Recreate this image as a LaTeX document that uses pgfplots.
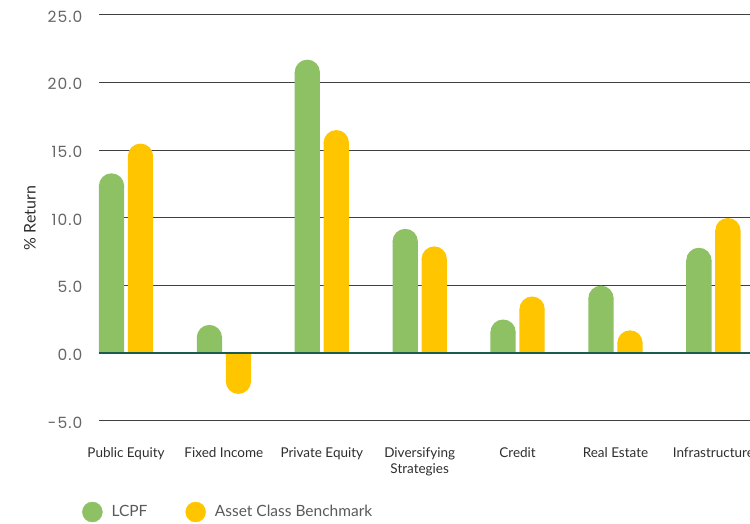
\documentclass[border=0pt]{standalone}
\usepackage{pgfplots}
\pgfplotsset{compat=1.18}
\usepackage{pgfplotstable}
\usepackage{fontspec}
\setmainfont{Lato}
\newfontfamily\tickfont[LetterSpace=7]{Poppins}
\definecolor{cgreen}{HTML}{8DC164}
\definecolor{cyellow}{HTML}{FFC600}
\definecolor{zerocol}{HTML}{1B5A4F}
\definecolor{ticktext}{HTML}{666666}
\definecolor{legtext}{HTML}{5A5A5A}
\definecolor{cattext}{HTML}{2E2E2E}
\pgfdeclareplotmark{capup}{%
  \pgfpathmoveto{\pgfqpoint{\pgfplotmarksize}{-0.6pt}}%
  \pgfpathlineto{\pgfqpoint{\pgfplotmarksize}{0pt}}%
  \pgfpatharc{0}{180}{\pgfplotmarksize}%
  \pgfpathlineto{\pgfqpoint{-\pgfplotmarksize}{-0.6pt}}%
  \pgfpathclose\pgfusepathqfill}
\pgfdeclareplotmark{capdown}{%
  \pgfpathmoveto{\pgfqpoint{-\pgfplotmarksize}{0.6pt}}%
  \pgfpathlineto{\pgfqpoint{-\pgfplotmarksize}{0pt}}%
  \pgfpatharc{180}{360}{\pgfplotmarksize}%
  \pgfpathlineto{\pgfqpoint{\pgfplotmarksize}{0.6pt}}%
  \pgfpathclose\pgfusepathqfill}
\pgfplotstableread{
x lcpf bench
0 13.3 15.5
1 2.1 -3.0
2 21.7 16.5
3 9.2 7.9
4 2.5 4.2
5 5.0 1.7
6 7.8 10.0
}\data
\begin{document}
\begin{tikzpicture}
\begin{axis}[
  at={(0,0)}, anchor=south west,
  scale only axis, width=651pt, height=406pt,
  xmin=-0.276, xmax=6.374, ymin=-5, ymax=25,
  axis line style={draw=none}, tick style={draw=none},
  ytick={-5,0,5,10,15,20,25},
  yticklabels={-5.0,0.0,5.0,10.0,15.0,20.0,25.0},
  yticklabel style={font=\tickfont\fontsize{15.5}{18}\selectfont, text=ticktext, xshift=-13pt, yshift=-1.5pt},
  xtick={0,1,2,3,4,5,6},
  xticklabels={Public Equity, Fixed Income, Private Equity, {Diversifying\\Strategies}, Credit, Real Estate, Infrastructure},
  xticklabel style={font=\fontsize{13.5}{16.5}\selectfont, text=cattext, align=center, yshift=-23pt},
  ymajorgrids, grid style={black!75, line width=1pt},
  every axis y label/.style={at={([xshift=-69pt]axis description cs:0,0.5)}, rotate=90, anchor=center, font=\fontsize{16}{19}\selectfont, text=cattext},
  ylabel={\% Return},
  legend columns=2,
  legend style={at={(axis description cs:0,0)}, anchor=west, xshift=-17pt, yshift=-91pt,
    draw=none, fill=none, inner sep=0pt, nodes={inner sep=0pt},
    font=\fontsize{15.5}{18}\selectfont, text=legtext,
    /tikz/every odd column/.append style={column sep=9pt},
    /tikz/every even column/.append style={column sep=38pt}},
]
\addplot[ybar, bar width=25.3pt, bar shift=-14.5pt, fill=cgreen, draw=none, forget plot]
  table[x=x, y expr={\thisrow{lcpf}-0.934*(\thisrow{lcpf}>0)+0.934*(\thisrow{lcpf}<0)}] {\data};
\addplot[ybar, bar width=25.3pt, bar shift=14.5pt, fill=cyellow, draw=none, forget plot]
  table[x=x, y expr={\thisrow{bench}-0.934*(\thisrow{bench}>0)+0.934*(\thisrow{bench}<0)}] {\data};
\addplot[only marks, mark=capup, mark size=12.65pt, color=cgreen, restrict y to domain=0:40, forget plot]
  table[x expr={\thisrow{x}-0.1481}, y expr={\thisrow{lcpf}-0.934}] {\data};
\addplot[only marks, mark=capdown, mark size=12.65pt, color=cgreen, restrict y to domain=-40:0, forget plot]
  table[x expr={\thisrow{x}-0.1481}, y expr={\thisrow{lcpf}+0.934}] {\data};
\addplot[only marks, mark=capup, mark size=12.65pt, color=cyellow, restrict y to domain=0:40, forget plot]
  table[x expr={\thisrow{x}+0.1481}, y expr={\thisrow{bench}-0.934}] {\data};
\addplot[only marks, mark=capdown, mark size=12.65pt, color=cyellow, restrict y to domain=-40:0, forget plot]
  table[x expr={\thisrow{x}+0.1481}, y expr={\thisrow{bench}+0.934}] {\data};
\addplot[line width=2pt, color=zerocol, forget plot] coordinates {(-0.276,0) (6.374,0)};
\addlegendimage{legend image code/.code={\fill[cgreen] (10pt,0pt) circle (10pt);}}
\addlegendentry{LCPF}
\addlegendimage{legend image code/.code={\fill[cyellow] (10pt,0pt) circle (10pt);}}
\addlegendentry{Asset Class Benchmark}
\end{axis}
\pgfresetboundingbox
\path[use as bounding box] (-99pt,-103pt) rectangle (651pt,421pt);
\end{tikzpicture}
\end{document}
